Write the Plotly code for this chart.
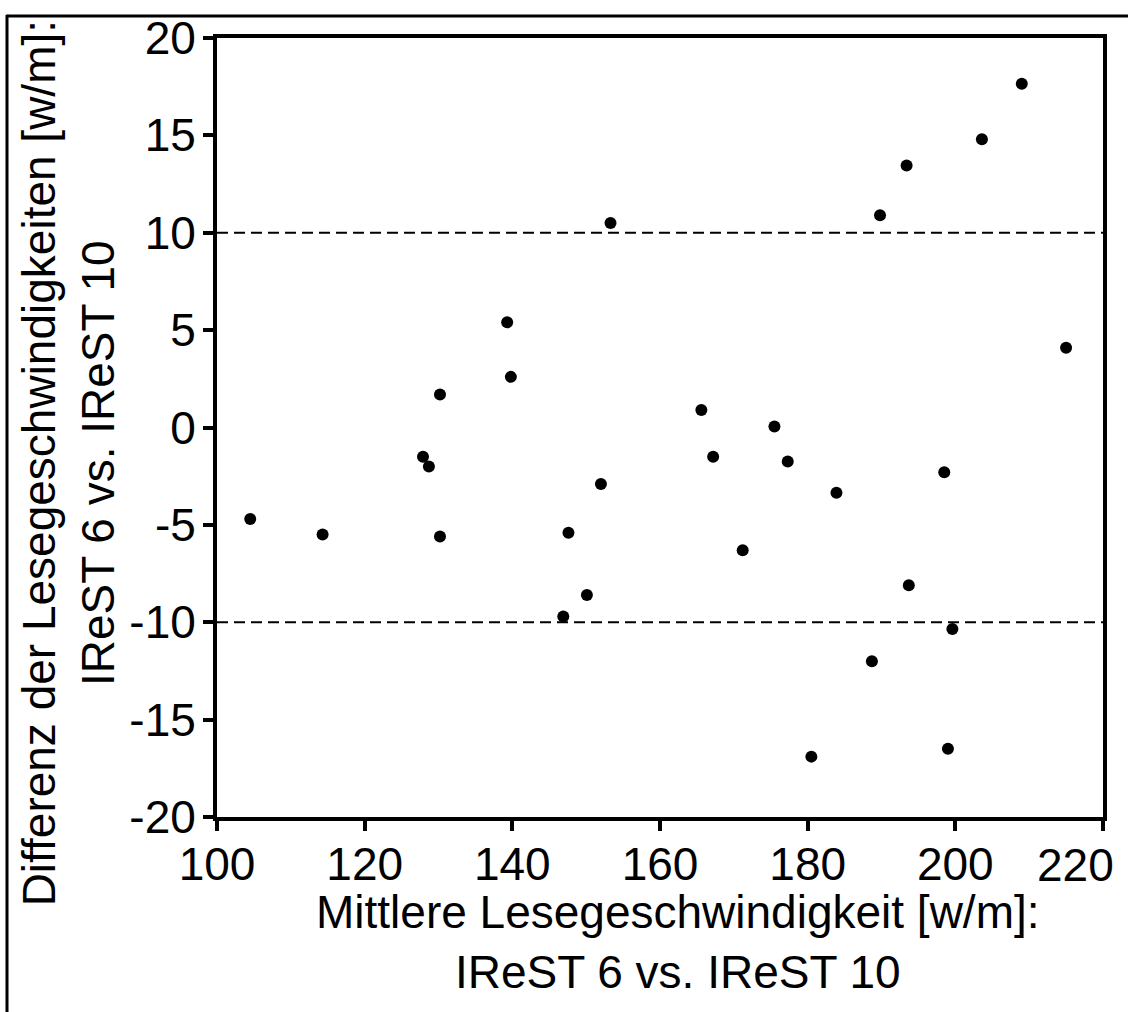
import plotly.graph_objects as go

# Bland-Altman data: mean reading speed (x) vs. difference (y)
mean_speed = [104.5, 114.3, 127.9, 128.7, 130.2, 130.2, 139.3, 139.8, 146.9, 147.6,
              150.1, 152.0, 153.3, 165.6, 167.2, 171.2, 175.5, 177.3, 180.5, 183.9,
              188.7, 189.8, 193.4, 193.7, 198.5, 199.0, 199.6, 203.6, 209.0, 215.0]
diff_speed = [-4.7, -5.5, -1.5, -2.0, 1.7, -5.6, 5.4, 2.6, -9.7, -5.4,
              -8.6, -2.9, 10.5, 0.9, -1.5, -6.3, 0.05, -1.75, -16.9, -3.35,
              -12.0, 10.9, 13.45, -8.1, -2.3, -16.5, -10.35, 14.8, 17.65, 4.1]
limits = [10, -10]
x_ticks = [100, 120, 140, 160, 180, 200, 220]
y_ticks = [20, 15, 10, 5, 0, -5, -10, -15, -20]

FONT = "Liberation Sans, Arial, sans-serif"
FS = 46

fig = go.Figure()
fig.add_trace(go.Scatter(
    x=mean_speed, y=diff_speed, mode="markers",
    marker=dict(color="black", size=12, line=dict(width=0)),
    showlegend=False, cliponaxis=False,
))

for lim in limits:
    fig.add_shape(type="line", xref="paper", x0=0, x1=1, yref="y", y0=lim, y1=lim,
                  line=dict(color="black", width=1.8, dash="11px,6px"), layer="below")

# outer frame (left and top edges visible)
fig.add_shape(type="line", xref="paper", yref="paper",
              x0=(7 - 217) / 886, x1=(7 - 217) / 886, y0=1.03, y1=-0.5,
              line=dict(color="black", width=3))
fig.add_shape(type="line", xref="paper", yref="paper",
              x0=(7 - 217) / 886, x1=1.2, y0=(817 - 13) / 782, y1=(817 - 13) / 782,
              line=dict(color="black", width=3))

axis_common = dict(
    showgrid=False, zeroline=False, showline=True, linecolor="black", linewidth=4,
    mirror=True, ticks="outside", ticklen=10, tickwidth=4, tickcolor="black",
    tickfont=dict(family=FONT, size=FS, color="black"),
)
# last x tick label is drawn separately (shifted left to stay inside the page)
x_text = [str(v) for v in x_ticks[:-1]] + [""]
fig.update_xaxes(range=[100, 220], tickvals=x_ticks, ticktext=x_text,
                 ticklabelstandoff=-6, **axis_common)
fig.update_yaxes(range=[-20, 20], tickvals=y_ticks, ticktext=[str(v) for v in y_ticks],
                 ticklabelstandoff=-2, **axis_common)

fig.add_annotation(
    text=str(x_ticks[-1]), xref="paper", yref="paper",
    x=(1075 - 217) / 886, y=(817 - 865) / 782,
    xanchor="center", yanchor="middle", showarrow=False,
    font=dict(family=FONT, size=FS, color="black"),
)
fig.add_annotation(
    text="Mittlere Lesegeschwindigkeit [w/m]:<br>IReST 6 vs. IReST 10",
    xref="paper", yref="paper", x=(678 - 217) / 886, y=(817 - 942) / 782,
    xanchor="center", yanchor="middle", showarrow=False,
    font=dict(family=FONT, size=FS, color="black"),
)
fig.add_annotation(
    text="Differenz der Lesegeschwindigkeiten [w/m]:<br>IReST 6 vs. IReST 10",
    xref="paper", yref="paper", x=(69 - 217) / 886, y=(817 - 462) / 782,
    xanchor="center", yanchor="middle", showarrow=False, textangle=-90,
    font=dict(family=FONT, size=FS, color="black"),
)

fig.update_layout(
    width=1128, height=1012,
    margin=dict(l=217, r=25, t=35, b=195),
    plot_bgcolor="white", paper_bgcolor="white",
    font=dict(family=FONT, color="black"),
)

fig.write_html("out.html")
